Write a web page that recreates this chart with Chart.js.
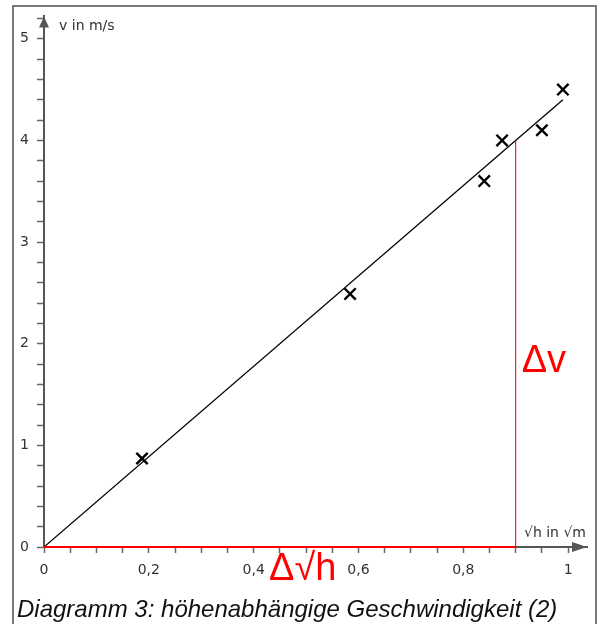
<!DOCTYPE html>
<html lang="de">
<head>
<meta charset="UTF-8">
<title>Diagramm 3</title>
<script src="https://cdn.jsdelivr.net/npm/chart.js"></script>
<style>
  html, body { margin: 0; padding: 0; background: #fff; }
  #wrap { position: relative; width: 601px; height: 624px; }
</style>
</head>
<body>
<div id="wrap"><canvas id="c" width="601" height="624"></canvas></div>
<script>
// Messwerte: Wurzel der Höhe (√m) und Geschwindigkeit (m/s)
const sqrtH = [0.187, 0.584, 0.840, 0.874, 0.950, 0.990];
const speed = [0.87, 2.49, 3.60, 4.00, 4.10, 4.50];

// Ausgleichsgerade
const fitX = [0, 0.99];
const fitY = [0, 4.40];

// Steigungsdreieck
const deltaX = 0.9;
const deltaY = 4.0;

const xTickLabels = ['0', '0,2', '0,4', '0,6', '0,8', '1'];
const yTickLabels = ['0', '1', '2', '3', '4', '5'];

const caption = 'Diagramm 3: höhenabhängige Geschwindigkeit (2)';

const font = '"Liberation Sans", Arial, sans-serif';
const tickFont = '"DejaVu Sans", sans-serif';

const decor = {
  id: 'decor',
  beforeDraw(chart) {
    const ctx = chart.ctx;
    ctx.save();
    ctx.fillStyle = '#fff';
    ctx.fillRect(0, 0, chart.width, chart.height);
    // Rahmen
    ctx.strokeStyle = '#7a7a7a';
    ctx.lineWidth = 2;
    ctx.beginPath();
    ctx.moveTo(13, 624);
    ctx.lineTo(13, 6);
    ctx.lineTo(596, 6);
    ctx.lineTo(596, 624);
    ctx.stroke();
    ctx.restore();
  },
  afterDraw(chart) {
    const ctx = chart.ctx;
    const xs = chart.scales.x, ys = chart.scales.y;
    const x0 = xs.getPixelForValue(0), y0 = ys.getPixelForValue(0);
    ctx.save();
    // Pfeilspitzen
    ctx.fillStyle = '#555';
    ctx.beginPath();
    ctx.moveTo(x0, ys.top);
    ctx.lineTo(x0 - 5, ys.top + 11);
    ctx.lineTo(x0 + 5, ys.top + 11);
    ctx.closePath();
    ctx.fill();
    ctx.beginPath();
    ctx.moveTo(xs.right, y0);
    ctx.lineTo(xs.right - 15, y0 - 5);
    ctx.lineTo(xs.right - 15, y0 + 5);
    ctx.closePath();
    ctx.fill();

    // Achsenbeschriftung
    ctx.fillStyle = '#333';
    ctx.font = '14px ' + tickFont;
    ctx.textBaseline = 'middle';
    ctx.textAlign = 'left';
    ctx.fillText('v in m/s', x0 + 15, ys.top + 10);
    ctx.textAlign = 'right';
    ctx.fillText('√h in √m', xs.right - 1, y0 - 14);

    // Delta-Beschriftung
    ctx.fillStyle = '#ff0000';
    ctx.font = '38px ' + font;
    ctx.textBaseline = 'alphabetic';
    ctx.textAlign = 'left';
    ctx.fillText('Δv', xs.getPixelForValue(deltaX) + 6, ys.getPixelForValue(1.72));
    ctx.fillText('Δ√h', 269, 580);

    // Bildunterschrift
    ctx.fillStyle = '#111';
    ctx.font = 'italic 24px ' + font;
    ctx.fillText(caption, 17, 617);
    ctx.restore();
  }
};

const minorLabel = (list, step) => (v) => {
  const i = Math.round(v / step);
  return Math.abs(v - i * step) < 1e-6 ? list[i] : '';
};

new Chart(document.getElementById('c'), {
  type: 'scatter',
  data: {
    datasets: [
      {
        label: 'Gerade',
        type: 'line',
        data: fitX.map((x, i) => ({ x: x, y: fitY[i] })),
        borderColor: '#000',
        borderWidth: 1.3,
        pointRadius: 0,
        fill: false,
        order: 3
      },
      {
        label: 'Δv',
        type: 'line',
        data: [{ x: deltaX, y: 0 }, { x: deltaX, y: deltaY }],
        borderColor: '#e00000',
        borderWidth: 1,
        pointRadius: 0,
        clip: false,
        order: 2
      },
      {
        label: 'Δ√h',
        type: 'line',
        data: [{ x: 0, y: 0 }, { x: deltaX, y: 0 }],
        borderColor: '#ff0000',
        borderWidth: 2,
        pointRadius: 0,
        clip: false,
        order: 1
      },
      {
        label: 'Messwerte',
        data: sqrtH.map((x, i) => ({ x: x, y: speed[i] })),
        pointStyle: 'crossRot',
        pointRadius: 8,
        pointBorderWidth: 2.4,
        borderColor: '#000',
        backgroundColor: '#000',
        clip: false,
        order: 0
      }
    ]
  },
  options: {
    responsive: false,
    animation: false,
    layout: { padding: { top: 16, right: 14, left: 0, bottom: 0 } },
    plugins: {
      legend: { display: false },
      tooltip: { enabled: false }
    },
    scales: {
      x: {
        type: 'linear',
        min: 0,
        max: 1.036,
        afterFit: (s) => { s.height = 77; },
        border: { display: true, color: '#555', width: 2 },
        grid: { drawOnChartArea: false, drawTicks: true, tickLength: 6, tickColor: '#666', tickWidth: 1.5 },
        ticks: {
          stepSize: 0.05,
          includeBounds: false,
          autoSkip: false,
          maxRotation: 0,
          padding: 9,
          color: '#333',
          font: { family: tickFont, size: 14 },
          callback: minorLabel(xTickLabels, 0.2)
        }
      },
      y: {
        type: 'linear',
        min: 0,
        max: 5.22,
        afterFit: (s) => { s.width = 44; },
        border: { display: true, color: '#555', width: 2 },
        grid: { drawOnChartArea: false, drawTicks: true, tickLength: 7, tickColor: '#666', tickWidth: 1.5 },
        ticks: {
          stepSize: 0.2,
          includeBounds: false,
          autoSkip: false,
          padding: 8,
          color: '#333',
          font: { family: tickFont, size: 14 },
          callback: minorLabel(yTickLabels, 1)
        }
      }
    }
  },
  plugins: [decor]
});
</script>
</body>
</html>
